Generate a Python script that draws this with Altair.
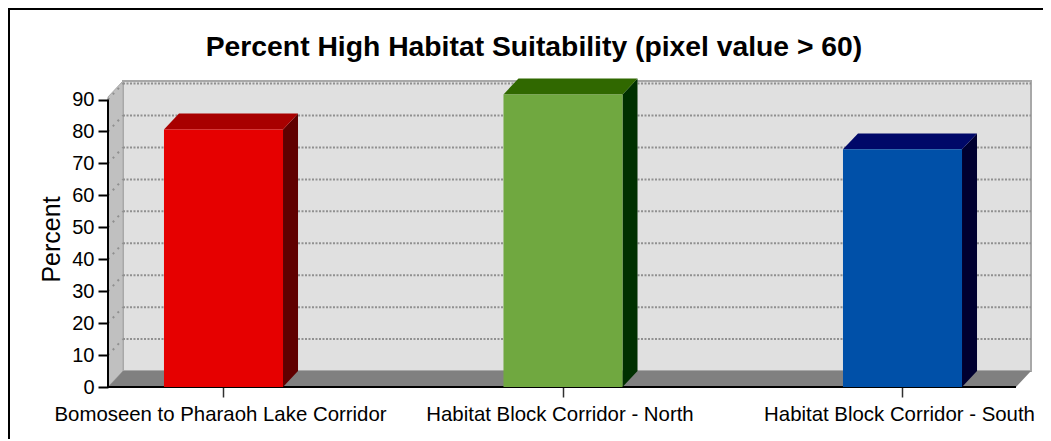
import altair as alt
import pandas as pd

# --- data ---
categories = ["Bomoseen to Pharaoh Lake Corridor", "Habitat Block Corridor - North", "Habitat Block Corridor - South"]
positions = [0, 1, 2]
values = [80.6, 91.6, 74.4]
front_colors = ["#E60000", "#70A840", "#0050A8"]
top_colors = ["#A80000", "#306800", "#000868"]
side_colors = ["#600000", "#003000", "#000030"]
y_ticks = [0, 10, 20, 30, 40, 50, 60, 70, 80, 90]
title_text = "Percent High Habitat Suitability (pixel value > 60)"

# --- scene geometry in data units ---
X_MIN, X_MAX = -0.3402, 2.3785
Y_MAX = 95.8
HALF = 0.1753
DX = 0.0442
DY = 5.0
X_FLOOR_END = X_MAX - DX

label_expr = "{0:'%s',1:'%s',2:'%s'}[datum.value]" % tuple(categories)
x_axis = alt.Axis(
    title=None, values=positions, labelExpr=label_expr, domain=False, grid=False,
    tickColor="#303030", tickWidth=1.5, tickSize=10, labelFont="Liberation Sans",
    labelFontSize=20.4, labelColor="#000000", labelPadding=7, labelOverlap=False,
    labelFlush=False, labelOffset=-3.5, labelLimit=500)
y_axis = alt.Axis(
    values=y_ticks, domain=False, grid=False, tickColor="#000000", tickWidth=2,
    tickSize=10, labelFont="Liberation Sans", labelFontSize=20, labelColor="#000000",
    labelPadding=4, title="Percent", titleFont="Liberation Sans", titleFontSize=25,
    titleFontWeight="normal", titleColor="#000000", titleX=-44, titleY=158)

x_scale = alt.Scale(domain=[X_MIN, X_MAX], nice=False, zero=False)
y_scale = alt.Scale(domain=[0, Y_MAX], nice=False, zero=False)
X = lambda f: alt.X(f, type="quantitative", scale=x_scale, axis=x_axis)
Y = lambda f: alt.Y(f, type="quantitative", scale=y_scale, axis=y_axis)
X2 = lambda f: alt.X2(f)
Y2 = lambda f: alt.Y2(f)

# back wall
wall_df = pd.DataFrame({"x": [X_MIN + DX], "x2": [X_MAX], "y": [DY], "y2": [Y_MAX]})
wall = alt.Chart(wall_df).mark_rect(fill="#E0E0E0", stroke="#A8A8A8", strokeWidth=2).encode(
    x=X("x"), x2=X2("x2"), y=Y("y"), y2=Y2("y2"))

# left wall
left_df = pd.DataFrame({"x": [X_MIN, X_MIN + DX], "y": [0, DY], "y2": [Y_MAX - DY, Y_MAX]})
left = alt.Chart(left_df).mark_area(fill="#C0C0C0", stroke="#A8A8A8", strokeWidth=1, orient="vertical").encode(
    x=X("x"), y=Y("y"), y2=Y2("y2"))

# floor
floor_df = pd.DataFrame({"y": [0, DY], "x": [X_MIN, X_MIN + DX], "x2": [X_FLOOR_END, X_MAX]})
floor = alt.Chart(floor_df).mark_area(fill="#808080", orient="horizontal").encode(
    y=Y("y"), x=X("x"), x2=X2("x2"))

# grid lines on back wall and left wall
grid_vals = [v for v in y_ticks if v > 0]
grid_df = pd.DataFrame({"y": [v + DY for v in grid_vals], "x": [X_MIN + DX] * len(grid_vals), "x2": [X_MAX] * len(grid_vals)})
grid = alt.Chart(grid_df).mark_rule(color="#909090", strokeWidth=2, strokeDash=[2, 1.5]).encode(
    x=X("x"), x2=X2("x2"), y=Y("y"))
diag_rows = []
for v in grid_vals:
    diag_rows.append({"v": v, "x": X_MIN, "y": v})
    diag_rows.append({"v": v, "x": X_MIN + DX, "y": v + DY})
diag = alt.Chart(pd.DataFrame(diag_rows)).mark_line(color="#909090", strokeWidth=2, strokeDash=[2, 5]).encode(
    x=X("x"), y=Y("y"), detail="v:N")

# bars
bars_df = pd.DataFrame({"pos": positions, "val": values, "front": front_colors})
bars_df["left"] = bars_df["pos"] - HALF
bars_df["right"] = bars_df["pos"] + HALF
bars_df["zero"] = 0
front = alt.Chart(bars_df).mark_rect().encode(
    x=X("left"), x2=X2("right"), y=Y("zero"), y2=Y2("val"),
    color=alt.Color("front:N", scale=None))

top_rows, side_rows = [], []
for p, v, t, s in zip(positions, values, top_colors, side_colors):
    top_rows.append({"y": v, "x": p - HALF, "x2": p + HALF, "c": t})
    top_rows.append({"y": v + DY, "x": p - HALF + DX, "x2": p + HALF + DX, "c": t})
    side_rows.append({"x": p + HALF, "y": 0, "y2": v, "c": s})
    side_rows.append({"x": p + HALF + DX, "y": DY, "y2": v + DY, "c": s})
top = alt.Chart(pd.DataFrame(top_rows)).mark_area(orient="horizontal").encode(
    y=Y("y"), x=X("x"), x2=X2("x2"), color=alt.Color("c:N", scale=None))
side = alt.Chart(pd.DataFrame(side_rows)).mark_area(orient="vertical").encode(
    x=X("x"), y=Y("y"), y2=Y2("y2"), color=alt.Color("c:N", scale=None))

# axis lines
y_axis_df = pd.DataFrame({"x": [X_MIN], "y": [0], "y2": [y_ticks[-1]]})
y_line = alt.Chart(y_axis_df).mark_rule(color="#000000", strokeWidth=2).encode(
    x=X("x"), y=Y("y"), y2=Y2("y2"))
x_axis_df = pd.DataFrame({"x": [X_MIN], "x2": [X_FLOOR_END], "y": [0]})
x_line = alt.Chart(x_axis_df).mark_rule(color="#000000", strokeWidth=2).encode(
    x=X("x"), x2=X2("x2"), y=Y("y"))

# outer frame (left and top edges only) and title
frame_left = alt.Chart().mark_rule(color="#000000", strokeWidth=2).encode(
    x=alt.value(-99), y=alt.value(-72), y2=alt.value(360))
frame_top = alt.Chart().mark_rule(color="#000000", strokeWidth=2).encode(
    x=alt.value(-100), x2=alt.value(935), y=alt.value(-72))
title_mark = alt.Chart().mark_text(
    text=title_text, font="Liberation Sans", fontSize=28.3, fontWeight="bold", color="#000000",
    align="center", baseline="alphabetic").encode(x=alt.value(426), y=alt.value(-25))

chart = alt.layer(
    wall, left, floor, grid, diag, x_line, y_line, side, top, front, frame_left, frame_top, title_mark
).properties(
    width=923,
    height=306,
    padding={"left": 100, "top": 73, "right": 12, "bottom": 52},
    autosize=alt.AutoSizeParams(type="none"),
    background="#FFFFFF",
).configure_view(stroke=None)

chart.save("out.html", embed_options={"renderer": "svg", "actions": False})
